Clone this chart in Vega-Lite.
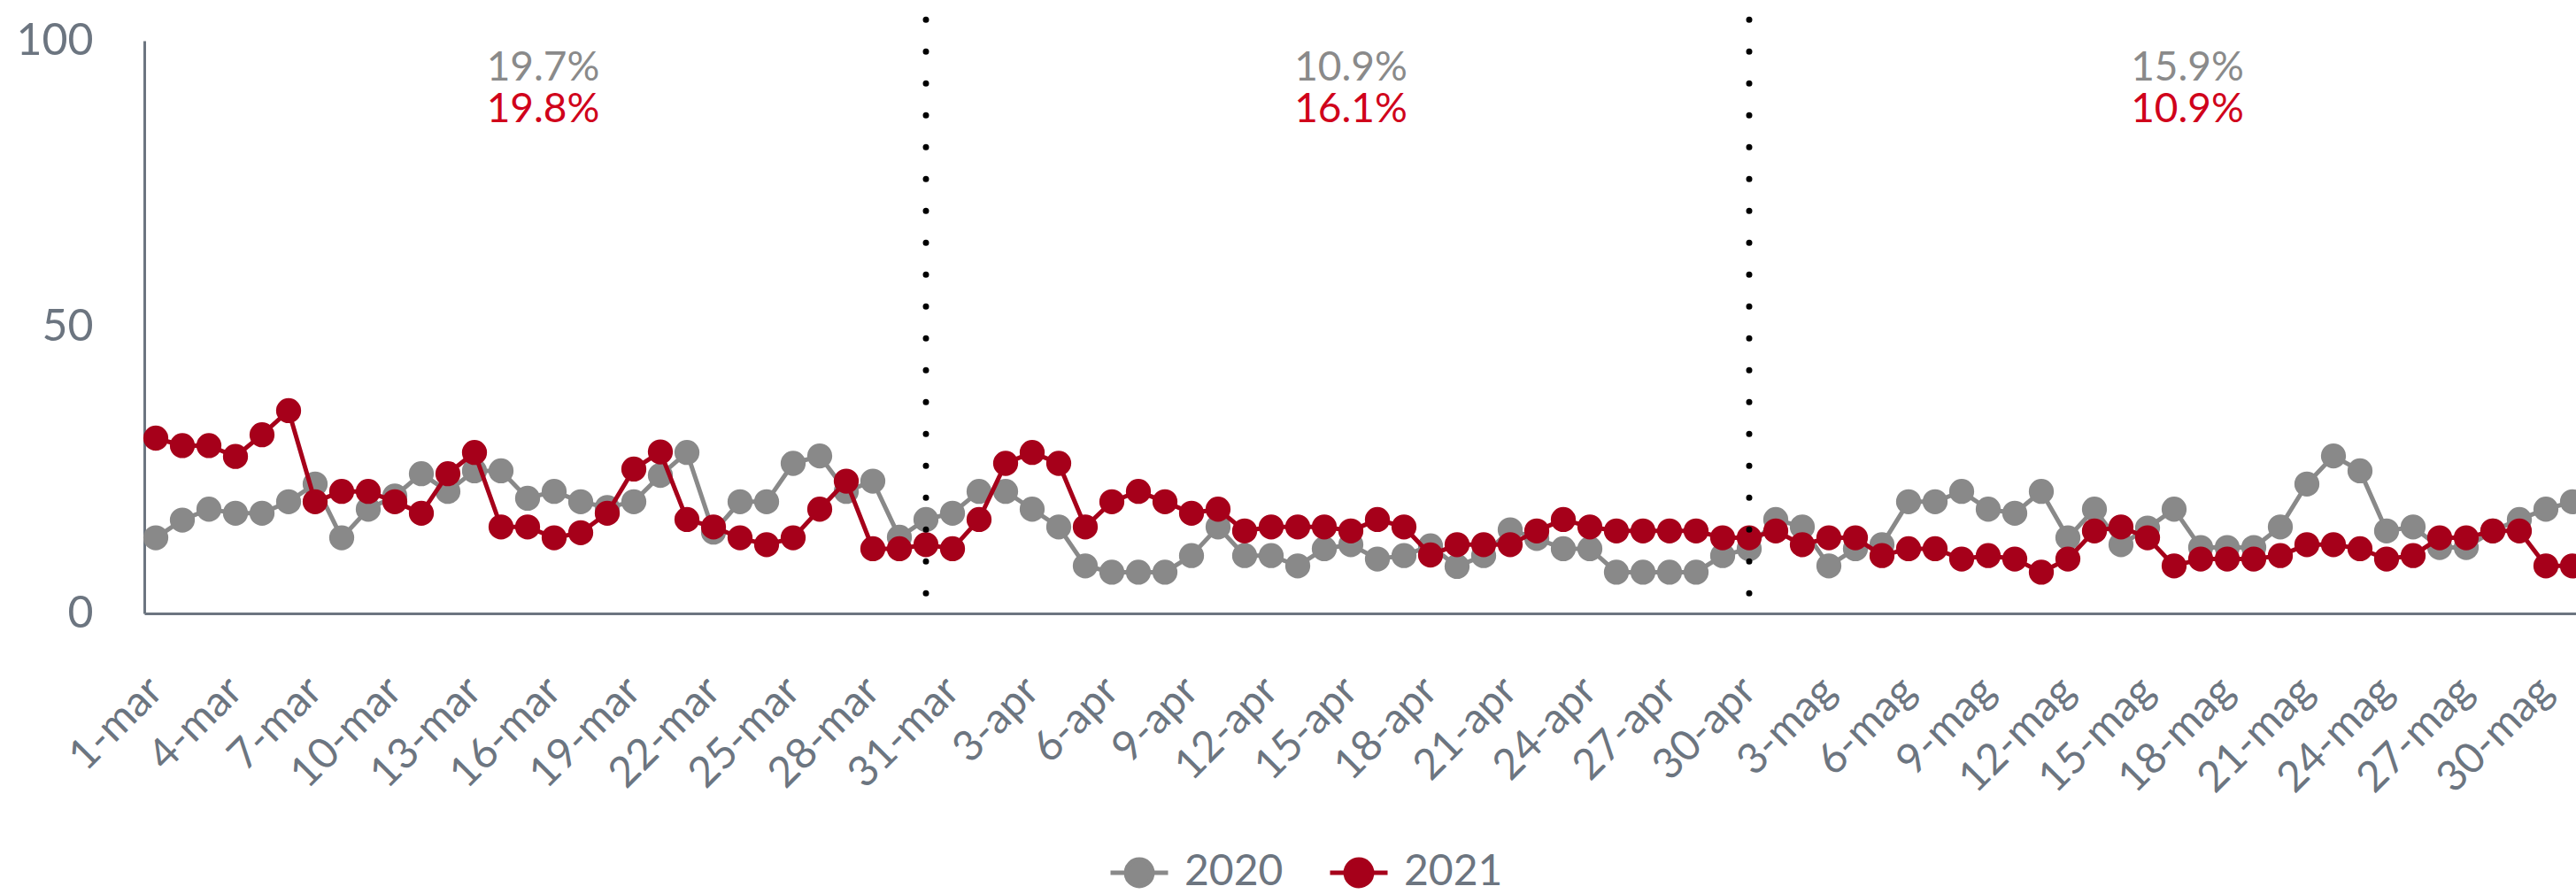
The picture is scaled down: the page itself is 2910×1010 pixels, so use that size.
{
  "$schema": "https://vega.github.io/schema/vega-lite/v6.json",
  "width": 2747,
  "height": 647,
  "autosize": "none",
  "padding": {"left": 163, "top": 46, "right": 0, "bottom": 317},
  "background": "white",
  "config": {
    "view": {"stroke": null},
    "font": "Lato",
    "axis": {"labelFont": "Lato", "ticks": false, "grid": false, "domainColor": "#6c7580", "domainWidth": 3, "labelColor": "#6c7580"},
    "legend": {"labelFont": "Lato"}
  },
  "datasets": {
    "serie": [
      {"giorno":"2021-03-01","anno":"2020","v":13.2},{"giorno":"2021-03-01","anno":"2021","v":30.6},
      {"giorno":"2021-03-02","anno":"2020","v":16.3},{"giorno":"2021-03-02","anno":"2021","v":29.3},
      {"giorno":"2021-03-03","anno":"2020","v":18.2},{"giorno":"2021-03-03","anno":"2021","v":29.3},
      {"giorno":"2021-03-04","anno":"2020","v":17.5},{"giorno":"2021-03-04","anno":"2021","v":27.4},
      {"giorno":"2021-03-05","anno":"2020","v":17.5},{"giorno":"2021-03-05","anno":"2021","v":31.2},
      {"giorno":"2021-03-06","anno":"2020","v":19.5},{"giorno":"2021-03-06","anno":"2021","v":35.4},
      {"giorno":"2021-03-07","anno":"2020","v":22.6},{"giorno":"2021-03-07","anno":"2021","v":19.5},
      {"giorno":"2021-03-08","anno":"2020","v":13.2},{"giorno":"2021-03-08","anno":"2021","v":21.3},
      {"giorno":"2021-03-09","anno":"2020","v":18.2},{"giorno":"2021-03-09","anno":"2021","v":21.3},
      {"giorno":"2021-03-10","anno":"2020","v":20.5},{"giorno":"2021-03-10","anno":"2021","v":19.5},
      {"giorno":"2021-03-11","anno":"2020","v":24.4},{"giorno":"2021-03-11","anno":"2021","v":17.5},
      {"giorno":"2021-03-12","anno":"2020","v":21.3},{"giorno":"2021-03-12","anno":"2021","v":24.4},
      {"giorno":"2021-03-13","anno":"2020","v":24.9},{"giorno":"2021-03-13","anno":"2021","v":28.1},
      {"giorno":"2021-03-14","anno":"2020","v":24.9},{"giorno":"2021-03-14","anno":"2021","v":15.1},
      {"giorno":"2021-03-15","anno":"2020","v":20.1},{"giorno":"2021-03-15","anno":"2021","v":15.1},
      {"giorno":"2021-03-16","anno":"2020","v":21.3},{"giorno":"2021-03-16","anno":"2021","v":13.2},
      {"giorno":"2021-03-17","anno":"2020","v":19.5},{"giorno":"2021-03-17","anno":"2021","v":14.1},
      {"giorno":"2021-03-18","anno":"2020","v":18.5},{"giorno":"2021-03-18","anno":"2021","v":17.5},
      {"giorno":"2021-03-19","anno":"2020","v":19.5},{"giorno":"2021-03-19","anno":"2021","v":25.2},
      {"giorno":"2021-03-20","anno":"2020","v":24.1},{"giorno":"2021-03-20","anno":"2021","v":28.2},
      {"giorno":"2021-03-21","anno":"2020","v":28.1},{"giorno":"2021-03-21","anno":"2021","v":16.4},
      {"giorno":"2021-03-22","anno":"2020","v":14.2},{"giorno":"2021-03-22","anno":"2021","v":15.1},
      {"giorno":"2021-03-23","anno":"2020","v":19.5},{"giorno":"2021-03-23","anno":"2021","v":13.2},
      {"giorno":"2021-03-24","anno":"2020","v":19.5},{"giorno":"2021-03-24","anno":"2021","v":12.0},
      {"giorno":"2021-03-25","anno":"2020","v":26.2},{"giorno":"2021-03-25","anno":"2021","v":13.2},
      {"giorno":"2021-03-26","anno":"2020","v":27.5},{"giorno":"2021-03-26","anno":"2021","v":18.2},
      {"giorno":"2021-03-27","anno":"2020","v":21.3},{"giorno":"2021-03-27","anno":"2021","v":23.1},
      {"giorno":"2021-03-28","anno":"2020","v":23.1},{"giorno":"2021-03-28","anno":"2021","v":11.3},
      {"giorno":"2021-03-29","anno":"2020","v":13.3},{"giorno":"2021-03-29","anno":"2021","v":11.3},
      {"giorno":"2021-03-30","anno":"2020","v":16.4},{"giorno":"2021-03-30","anno":"2021","v":12.0},
      {"giorno":"2021-03-31","anno":"2020","v":17.5},{"giorno":"2021-03-31","anno":"2021","v":11.3},
      {"giorno":"2021-04-01","anno":"2020","v":21.3},{"giorno":"2021-04-01","anno":"2021","v":16.4},
      {"giorno":"2021-04-02","anno":"2020","v":21.3},{"giorno":"2021-04-02","anno":"2021","v":26.2},
      {"giorno":"2021-04-03","anno":"2020","v":18.2},{"giorno":"2021-04-03","anno":"2021","v":28.1},
      {"giorno":"2021-04-04","anno":"2020","v":15.1},{"giorno":"2021-04-04","anno":"2021","v":26.2},
      {"giorno":"2021-04-05","anno":"2020","v":8.3},{"giorno":"2021-04-05","anno":"2021","v":15.1},
      {"giorno":"2021-04-06","anno":"2020","v":7.2},{"giorno":"2021-04-06","anno":"2021","v":19.5},
      {"giorno":"2021-04-07","anno":"2020","v":7.2},{"giorno":"2021-04-07","anno":"2021","v":21.3},
      {"giorno":"2021-04-08","anno":"2020","v":7.2},{"giorno":"2021-04-08","anno":"2021","v":19.5},
      {"giorno":"2021-04-09","anno":"2020","v":10.1},{"giorno":"2021-04-09","anno":"2021","v":17.5},
      {"giorno":"2021-04-10","anno":"2020","v":15.1},{"giorno":"2021-04-10","anno":"2021","v":18.2},
      {"giorno":"2021-04-11","anno":"2020","v":10.1},{"giorno":"2021-04-11","anno":"2021","v":14.4},
      {"giorno":"2021-04-12","anno":"2020","v":10.1},{"giorno":"2021-04-12","anno":"2021","v":15.1},
      {"giorno":"2021-04-13","anno":"2020","v":8.3},{"giorno":"2021-04-13","anno":"2021","v":15.1},
      {"giorno":"2021-04-14","anno":"2020","v":11.3},{"giorno":"2021-04-14","anno":"2021","v":15.1},
      {"giorno":"2021-04-15","anno":"2020","v":12.0},{"giorno":"2021-04-15","anno":"2021","v":14.4},
      {"giorno":"2021-04-16","anno":"2020","v":9.5},{"giorno":"2021-04-16","anno":"2021","v":16.4},
      {"giorno":"2021-04-17","anno":"2020","v":10.1},{"giorno":"2021-04-17","anno":"2021","v":15.1},
      {"giorno":"2021-04-18","anno":"2020","v":11.8},{"giorno":"2021-04-18","anno":"2021","v":10.2},
      {"giorno":"2021-04-19","anno":"2020","v":8.2},{"giorno":"2021-04-19","anno":"2021","v":12.0},
      {"giorno":"2021-04-20","anno":"2020","v":10.1},{"giorno":"2021-04-20","anno":"2021","v":12.0},
      {"giorno":"2021-04-21","anno":"2020","v":14.6},{"giorno":"2021-04-21","anno":"2021","v":12.0},
      {"giorno":"2021-04-22","anno":"2020","v":13.1},{"giorno":"2021-04-22","anno":"2021","v":14.4},
      {"giorno":"2021-04-23","anno":"2020","v":11.3},{"giorno":"2021-04-23","anno":"2021","v":16.4},
      {"giorno":"2021-04-24","anno":"2020","v":11.3},{"giorno":"2021-04-24","anno":"2021","v":15.1},
      {"giorno":"2021-04-25","anno":"2020","v":7.2},{"giorno":"2021-04-25","anno":"2021","v":14.4},
      {"giorno":"2021-04-26","anno":"2020","v":7.2},{"giorno":"2021-04-26","anno":"2021","v":14.4},
      {"giorno":"2021-04-27","anno":"2020","v":7.2},{"giorno":"2021-04-27","anno":"2021","v":14.4},
      {"giorno":"2021-04-28","anno":"2020","v":7.2},{"giorno":"2021-04-28","anno":"2021","v":14.4},
      {"giorno":"2021-04-29","anno":"2020","v":10.1},{"giorno":"2021-04-29","anno":"2021","v":13.2},
      {"giorno":"2021-04-30","anno":"2020","v":11.3},{"giorno":"2021-04-30","anno":"2021","v":13.2},
      {"giorno":"2021-05-01","anno":"2020","v":16.4},{"giorno":"2021-05-01","anno":"2021","v":14.4},
      {"giorno":"2021-05-02","anno":"2020","v":15.1},{"giorno":"2021-05-02","anno":"2021","v":12.0},
      {"giorno":"2021-05-03","anno":"2020","v":8.3},{"giorno":"2021-05-03","anno":"2021","v":13.2},
      {"giorno":"2021-05-04","anno":"2020","v":11.3},{"giorno":"2021-05-04","anno":"2021","v":13.2},
      {"giorno":"2021-05-05","anno":"2020","v":12.0},{"giorno":"2021-05-05","anno":"2021","v":10.1},
      {"giorno":"2021-05-06","anno":"2020","v":19.5},{"giorno":"2021-05-06","anno":"2021","v":11.3},
      {"giorno":"2021-05-07","anno":"2020","v":19.5},{"giorno":"2021-05-07","anno":"2021","v":11.3},
      {"giorno":"2021-05-08","anno":"2020","v":21.3},{"giorno":"2021-05-08","anno":"2021","v":9.5},
      {"giorno":"2021-05-09","anno":"2020","v":18.2},{"giorno":"2021-05-09","anno":"2021","v":10.1},
      {"giorno":"2021-05-10","anno":"2020","v":17.5},{"giorno":"2021-05-10","anno":"2021","v":9.5},
      {"giorno":"2021-05-11","anno":"2020","v":21.3},{"giorno":"2021-05-11","anno":"2021","v":7.2},
      {"giorno":"2021-05-12","anno":"2020","v":13.2},{"giorno":"2021-05-12","anno":"2021","v":9.5},
      {"giorno":"2021-05-13","anno":"2020","v":18.2},{"giorno":"2021-05-13","anno":"2021","v":14.4},
      {"giorno":"2021-05-14","anno":"2020","v":12.0},{"giorno":"2021-05-14","anno":"2021","v":15.1},
      {"giorno":"2021-05-15","anno":"2020","v":14.9},{"giorno":"2021-05-15","anno":"2021","v":13.2},
      {"giorno":"2021-05-16","anno":"2020","v":18.2},{"giorno":"2021-05-16","anno":"2021","v":8.3},
      {"giorno":"2021-05-17","anno":"2020","v":11.5},{"giorno":"2021-05-17","anno":"2021","v":9.5},
      {"giorno":"2021-05-18","anno":"2020","v":11.5},{"giorno":"2021-05-18","anno":"2021","v":9.5},
      {"giorno":"2021-05-19","anno":"2020","v":11.5},{"giorno":"2021-05-19","anno":"2021","v":9.5},
      {"giorno":"2021-05-20","anno":"2020","v":15.1},{"giorno":"2021-05-20","anno":"2021","v":10.1},
      {"giorno":"2021-05-21","anno":"2020","v":22.6},{"giorno":"2021-05-21","anno":"2021","v":12.0},
      {"giorno":"2021-05-22","anno":"2020","v":27.5},{"giorno":"2021-05-22","anno":"2021","v":12.0},
      {"giorno":"2021-05-23","anno":"2020","v":24.9},{"giorno":"2021-05-23","anno":"2021","v":11.3},
      {"giorno":"2021-05-24","anno":"2020","v":14.4},{"giorno":"2021-05-24","anno":"2021","v":9.5},
      {"giorno":"2021-05-25","anno":"2020","v":15.1},{"giorno":"2021-05-25","anno":"2021","v":10.1},
      {"giorno":"2021-05-26","anno":"2020","v":11.5},{"giorno":"2021-05-26","anno":"2021","v":13.2},
      {"giorno":"2021-05-27","anno":"2020","v":11.5},{"giorno":"2021-05-27","anno":"2021","v":13.2},
      {"giorno":"2021-05-28","anno":"2020","v":14.4},{"giorno":"2021-05-28","anno":"2021","v":14.4},
      {"giorno":"2021-05-29","anno":"2020","v":16.4},{"giorno":"2021-05-29","anno":"2021","v":14.4},
      {"giorno":"2021-05-30","anno":"2020","v":18.2},{"giorno":"2021-05-30","anno":"2021","v":8.3},
      {"giorno":"2021-05-31","anno":"2020","v":19.5},{"giorno":"2021-05-31","anno":"2021","v":8.3}
    ],
    "separatori": [
      {"giorno":"2021-03-30"},
      {"giorno":"2021-04-30"}
    ],
    "quote": [
      {"giorno":"2021-03-15T14:00:00Z","anno":"2020","etichetta":"19.7%"},
      {"giorno":"2021-03-15T14:00:00Z","anno":"2021","etichetta":"19.8%"},
      {"giorno":"2021-04-15T00:00:00Z","anno":"2020","etichetta":"10.9%"},
      {"giorno":"2021-04-15T00:00:00Z","anno":"2021","etichetta":"16.1%"},
      {"giorno":"2021-05-16T12:00:00Z","anno":"2020","etichetta":"15.9%"},
      {"giorno":"2021-05-16T12:00:00Z","anno":"2021","etichetta":"10.9%"}
    ]
  },
  "layer": [
    {
      "data": {"name": "serie"},
      "transform": [{"filter": "datum.anno === '2020'"}],
      "mark": {"type": "line", "strokeWidth": 5, "point": {"filled": true, "size": 800, "opacity": 1}},
      "encoding": {
        "x": {
          "field": "giorno", "type": "temporal", "title": null,
          "scale": {"type": "utc", "domain": [
            {"year": 2021, "month": 2, "date": 28, "hours": 13, "minutes": 36, "utc": true},
            {"year": 2021, "month": 5, "date": 31, "hours": 3, "minutes": 12, "utc": true}
          ]},
          "axis": {
            "values": [
              {"year":2021,"month":3,"date":1,"utc":true},{"year":2021,"month":3,"date":4,"utc":true},
              {"year":2021,"month":3,"date":7,"utc":true},{"year":2021,"month":3,"date":10,"utc":true},
              {"year":2021,"month":3,"date":13,"utc":true},{"year":2021,"month":3,"date":16,"utc":true},
              {"year":2021,"month":3,"date":19,"utc":true},{"year":2021,"month":3,"date":22,"utc":true},
              {"year":2021,"month":3,"date":25,"utc":true},{"year":2021,"month":3,"date":28,"utc":true},
              {"year":2021,"month":3,"date":31,"utc":true},{"year":2021,"month":4,"date":3,"utc":true},
              {"year":2021,"month":4,"date":6,"utc":true},{"year":2021,"month":4,"date":9,"utc":true},
              {"year":2021,"month":4,"date":12,"utc":true},{"year":2021,"month":4,"date":15,"utc":true},
              {"year":2021,"month":4,"date":18,"utc":true},{"year":2021,"month":4,"date":21,"utc":true},
              {"year":2021,"month":4,"date":24,"utc":true},{"year":2021,"month":4,"date":27,"utc":true},
              {"year":2021,"month":4,"date":30,"utc":true},{"year":2021,"month":5,"date":3,"utc":true},
              {"year":2021,"month":5,"date":6,"utc":true},{"year":2021,"month":5,"date":9,"utc":true},
              {"year":2021,"month":5,"date":12,"utc":true},{"year":2021,"month":5,"date":15,"utc":true},
              {"year":2021,"month":5,"date":18,"utc":true},{"year":2021,"month":5,"date":21,"utc":true},
              {"year":2021,"month":5,"date":24,"utc":true},{"year":2021,"month":5,"date":27,"utc":true},
              {"year":2021,"month":5,"date":30,"utc":true}
            ],
            "labelExpr": "utcdate(datum.value) + '-' + ['gen','feb','mar','apr','mag','giu'][utcmonth(datum.value)]",
            "labelAngle": -45, "labelAlign": "right", "labelBaseline": "middle",
            "labelFontSize": 48, "labelPadding": 80, "labelOverlap": false, "labelFlush": false, "labelBound": false
          }
        },
        "y": {
          "field": "v", "type": "quantitative", "title": null,
          "scale": {"domain": [0, 100], "nice": false},
          "axis": {"values": [0, 50, 100], "labelFontSize": 50, "labelPadding": 58}
        },
        "color": {
          "field": "anno", "type": "nominal",
          "scale": {"domain": ["2020", "2021"], "range": ["#898989", "#a6001a"]},
          "legend": {
            "orient": "none", "legendX": 1089, "legendY": 905, "direction": "horizontal", "title": null,
            "symbolType": "M-1,0L-0.46,0M0.46,0L1,0M0.46,0A0.46,0.46 0 1,1 -0.46,0A0.46,0.46 0 1,1 0.46,0Z",
            "symbolSize": 4225, "symbolStrokeWidth": 5, "symbolOpacity": 1,
            "labelFontSize": 48, "labelColor": "#6c7580", "labelOffset": 16, "columnPadding": 42,
            "encode": {"symbols": {"update": {
              "fill": {"scale": "color", "field": "value"},
              "stroke": {"scale": "color", "field": "value"}
            }}}
          }
        }
      }
    },
    {
      "data": {"name": "serie"},
      "transform": [{"filter": "datum.anno === '2021'"}],
      "mark": {"type": "line", "strokeWidth": 5, "point": {"filled": true, "size": 800, "opacity": 1}},
      "encoding": {
        "x": {"field": "giorno", "type": "temporal", "title": null},
        "y": {"field": "v", "type": "quantitative", "title": null},
        "color": {"field": "anno", "type": "nominal"}
      }
    },
    {
      "data": {"name": "quote"},
      "transform": [{"filter": "datum.anno === '2020'"}],
      "mark": {"type": "text", "font": "Lato", "fontSize": 46, "align": "center", "baseline": "alphabetic", "color": "#8a8a8a"},
      "encoding": {
        "x": {"field": "giorno", "type": "temporal", "title": null},
        "y": {"datum": 93.05, "type": "quantitative"},
        "text": {"field": "etichetta"}
      }
    },
    {
      "data": {"name": "quote"},
      "transform": [{"filter": "datum.anno === '2021'"}],
      "mark": {"type": "text", "font": "Lato", "fontSize": 46, "align": "center", "baseline": "alphabetic", "color": "#d0021b"},
      "encoding": {
        "x": {"field": "giorno", "type": "temporal", "title": null},
        "y": {"datum": 85.8, "type": "quantitative"},
        "text": {"field": "etichetta"}
      }
    },
    {
      "data": {"name": "separatori"},
      "mark": {"type": "rule", "color": "black", "strokeWidth": 7, "strokeCap": "round", "strokeDash": [0.01, 36]},
      "encoding": {
        "x": {"field": "giorno", "type": "temporal", "title": null},
        "y": {"datum": 3.5, "type": "quantitative"},
        "y2": {"datum": 106}
      }
    }
  ]
}
